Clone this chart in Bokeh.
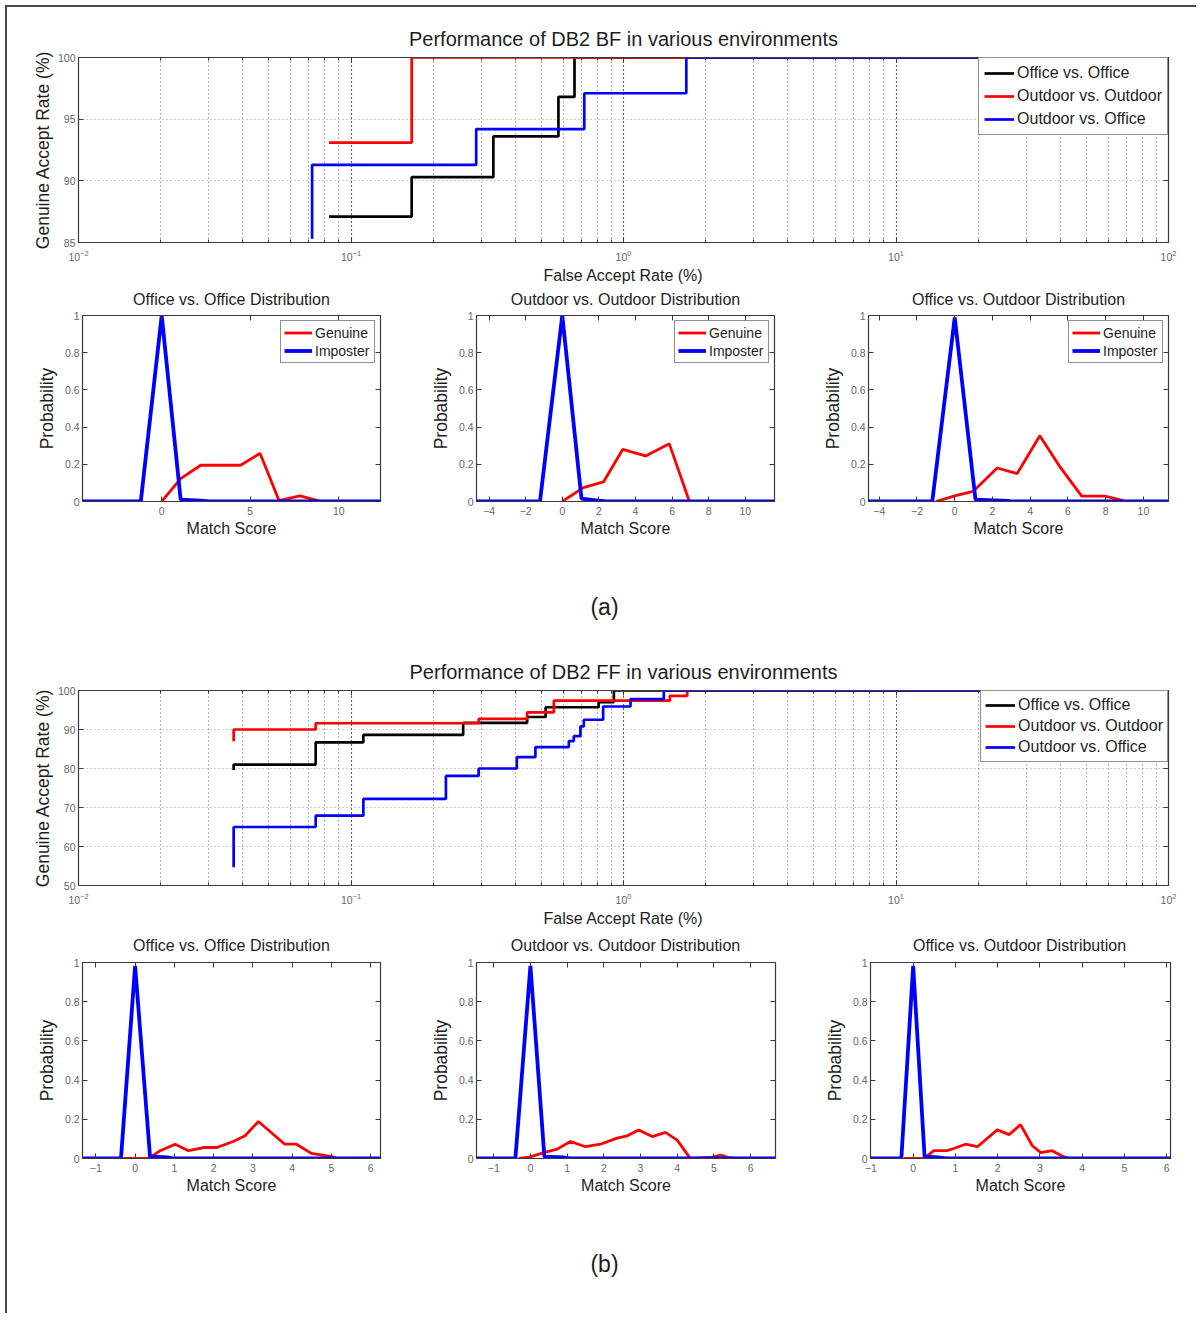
from bokeh.plotting import figure
from bokeh.layouts import column, row
from bokeh.models import (Range1d, LinearAxis, FixedTicker,
                          Legend, LegendItem, NumeralTickFormatter)
from bokeh.core.properties import value
from bokeh.embed import file_html
from bokeh.resources import INLINE

# ---------------- data ----------------
roc_series_names = ["Office vs. Office", "Outdoor vs. Outdoor", "Outdoor vs. Office"]
roc_colors = ["#000000", "#ff0000", "#0000ff"]

# (a) DB2 BF  -- FAR (%) breakpoints and GAR (%) levels (step "after")
bf_far_office = [0.083, 0.167, 0.333, 0.577, 0.661, 100]
bf_gar_office = [87.1, 90.3, 93.6, 96.8, 100, 100]
bf_far_outdoor = [0.083, 0.167, 100]
bf_gar_outdoor = [93.1, 100, 100]
bf_far_cross = [0.072, 0.072, 0.288, 0.718, 1.70, 100]
bf_gar_cross = [85.3, 91.3, 94.2, 97.1, 100, 100]

# (b) DB2 FF
ff_far_office = [0.0371, 0.0371, 0.0742, 0.111, 0.258, 0.443, 0.518, 0.811, 0.922, 100]
ff_gar_office = [79.6, 81.0, 86.7, 88.6, 91.7, 93.2, 95.7, 97.0, 100, 100]
ff_far_outdoor = [0.0371, 0.0371, 0.0742, 0.294, 0.443, 0.555, 1.479, 1.713, 100]
ff_gar_outdoor = [87.0, 90.0, 91.6, 92.7, 94.4, 97.4, 98.6, 100, 100]
ff_far_cross = [0.0371, 0.0371, 0.0742, 0.111, 0.223, 0.294, 0.406, 0.475, 0.630,
                0.657, 0.695, 0.715, 0.842, 1.061, 1.406, 100]
ff_gar_cross = [54.7, 65.0, 67.9, 72.2, 78.1, 80.0, 82.9, 85.5, 87.0,
                88.3, 90.8, 92.5, 95.9, 97.8, 100, 100]

bf_y_ticks = [85, 90, 95, 100]
ff_y_ticks = [50, 60, 70, 80, 90, 100]
far_major_ticks = [0.01, 0.1, 1, 10, 100]
far_minor_ticks = [m * d for d in [0.01, 0.1, 1, 10] for m in range(2, 10)]

dist_titles = ["Office vs. Office Distribution", "Outdoor vs. Outdoor Distribution",
               "Office vs. Outdoor Distribution"]

# distributions (a)
a1_gen_x = [0, 1.07, 2.2, 3.3, 4.45, 5.55, 6.62, 7.8, 8.87]
a1_gen_y = [0, 0.123, 0.195, 0.195, 0.195, 0.259, 0.005, 0.03, 0.003]
a1_imp_x = [-4.47, -1.18, 0, 1.07, 2.2, 2.7, 12.35]
a1_imp_y = [0, 0, 1.0, 0.01, 0.004, 0, 0]

a2_gen_x = [0, 1.15, 2.25, 3.3, 4.55, 5.85, 6.95]
a2_gen_y = [0, 0.075, 0.105, 0.28, 0.245, 0.31, 0.0]
a2_imp_x = [-4.69, -1.22, 0, 1.05, 1.96, 2.4, 11.6]
a2_imp_y = [0, 0, 1.0, 0.015, 0.004, 0, 0]

a3_gen_x = [-1.0, 0, 0.97, 2.25, 3.31, 4.51, 5.58, 6.73, 7.96, 8.94]
a3_gen_y = [0, 0.03, 0.054, 0.18, 0.15, 0.353, 0.186, 0.029, 0.029, 0.005]
a3_imp_x = [-4.57, -1.19, 0, 1.1, 2.83, 3.0, 11.33]
a3_imp_y = [0, 0, 0.99, 0.01, 0.003, 0, 0]

# distributions (b)
b1_gen_x = [-0.3, 0.34, 0.64, 1.02, 1.36, 1.74, 2.08, 2.5, 2.8, 3.14, 3.81, 4.11, 4.49, 5.04, 5.13]
b1_gen_y = [0, 0, 0.04, 0.073, 0.04, 0.056, 0.056, 0.087, 0.116, 0.189, 0.073, 0.073, 0.026, 0.008, 0]
b1_imp_x = [-1.34, -0.36, 0, 0.38, 0.85, 1.0, 6.25]
b1_imp_y = [0, 0, 0.983, 0.01, 0.005, 0, 0]

b2_gen_x = [-0.32, 0, 0.36, 0.73, 1.09, 1.5, 1.91, 2.36, 2.64, 2.95, 3.32, 3.68, 4.0, 4.36,
            4.91, 5.18, 5.41, 5.6]
b2_gen_y = [0, 0.008, 0.03, 0.048, 0.087, 0.06, 0.073, 0.104, 0.116, 0.146, 0.112, 0.133, 0.094, 0,
            0.005, 0.017, 0.005, 0]
b2_imp_x = [-1.47, -0.41, 0, 0.38, 0.91, 1.1, 6.68]
b2_imp_y = [0, 0, 0.983, 0.01, 0.005, 0, 0]

b3_gen_x = [-0.22, 0.25, 0.49, 0.8, 0.96, 1.24, 1.52, 1.99, 2.27, 2.54, 2.82, 3.02, 3.29, 3.57, 3.73]
b3_gen_y = [0, 0, 0.04, 0.04, 0.051, 0.073, 0.06, 0.146, 0.122, 0.173, 0.065, 0.03, 0.04, 0.008, 0]
b3_imp_x = [-1.01, -0.28, 0, 0.27, 0.61, 0.8, 6.09]
b3_imp_y = [0, 0, 0.983, 0.01, 0.005, 0, 0]

prob_ticks = [0, 0.2, 0.4, 0.6, 0.8, 1]

# ---------------- styling helpers ----------------
FONT = "Liberation Sans"
AX = "#3a3a3a"
TICK_TXT = "#666666"
TXT = "#1e1e1e"
OFF = 1          # extra offset of the content from the framing border
PAGE_W = 1188 + OFF
# the column aligns every frame with the big plots' frame: page x 78 .. 1168
STRIP_X = (78, 1168)


def style_axis(ax, labels=True, lab_size="10.5px"):
    ax.axis_line_color = AX
    ax.axis_line_width = 1.2
    ax.major_tick_line_color = AX
    ax.minor_tick_line_color = AX
    ax.major_tick_in = 5
    ax.major_tick_out = 0
    ax.minor_tick_in = 3
    ax.minor_tick_out = 0
    ax.major_label_text_font = FONT
    ax.major_label_text_color = TICK_TXT
    ax.major_label_standoff = 4
    ax.axis_label_text_font = FONT
    ax.axis_label_text_font_style = "normal"
    ax.axis_label_text_color = TXT
    if labels:
        ax.major_label_text_font_size = lab_size
    else:
        # tick marks only (box ticks as in the original); labels are not painted
        ax.major_label_text_font_size = "1px"
        ax.major_label_text_color = None
        ax.major_label_standoff = 0
        ax.axis_label = None


def roc_figure(title, series, y_lo, y_ticks, fh, mt, mb, leg_spacing, leg_pad):
    p = figure(x_axis_type="log", x_range=Range1d(0.01, 100), y_range=Range1d(y_lo, 100),
               frame_width=1090, frame_height=fh, min_border_left=70 + OFF, min_border_right=28,
               min_border_top=mt, min_border_bottom=mb, toolbar_location=None,
               output_backend="svg", title=title)
    p.title.text_font = FONT
    p.title.text_font_size = "20px"
    p.title.text_font_style = "normal"
    p.title.text_color = TXT
    p.title.align = "center"
    p.title.standoff = 15
    p.outline_line_color = AX
    bottom = p.below[0]
    left = p.left[0]
    bottom.axis_label = "False Accept Rate (%)"
    left.axis_label = "Genuine Accept Rate (%)"
    left.ticker = FixedTicker(ticks=y_ticks)
    top = LinearAxis(ticker=FixedTicker(ticks=far_major_ticks, minor_ticks=far_minor_ticks))
    right = LinearAxis(ticker=FixedTicker(ticks=y_ticks))
    p.add_layout(top, "above")
    p.add_layout(right, "right")
    style_axis(bottom, labels=True)
    style_axis(left, labels=True)
    style_axis(top, labels=False)
    style_axis(right, labels=False)
    bottom.axis_label_text_font_size = "16px"
    left.axis_label_text_font_size = "17.5px"
    bottom.axis_label_standoff = 3
    left.axis_label_standoff = 2
    left.major_label_standoff = 3
    bottom.major_label_standoff = 7

    p.xgrid.grid_line_color = "#333333"
    p.xgrid.grid_line_dash = "1 3"
    p.xgrid.grid_line_width = 1.2
    p.xgrid.minor_grid_line_color = "#6a6a6a"
    p.xgrid.minor_grid_line_dash = "1 3"
    p.ygrid.grid_line_color = "#9a9a9a"
    p.ygrid.grid_line_dash = "1 3"

    items = []
    for (name, far, gar), color in zip(series, roc_colors):
        r = p.step(far, gar, mode="after", line_color=color, line_width=2.7)
        items.append(LegendItem(label=name, renderers=[r]))
    leg = Legend(items=items, location="top_right", margin=0, padding=leg_pad,
                 spacing=leg_spacing, glyph_width=30, glyph_height=20, label_height=20,
                 label_width=143, label_standoff=3,
                 label_text_font=FONT, label_text_font_size="16px",
                 label_text_color=TXT, border_line_color="#222222",
                 border_line_width=1, background_fill_alpha=1.0)
    p.add_layout(leg)
    return p


def dist_figure(xr, xticks, gx, gy, ix, iy, fw, fh, ml, mr, mt, mb, legend):
    p = figure(x_range=Range1d(*xr), y_range=Range1d(0, 1), frame_width=fw, frame_height=fh,
               min_border_left=ml, min_border_right=mr, min_border_top=mt, min_border_bottom=mb,
               toolbar_location=None, output_backend="svg")
    p.outline_line_color = AX
    p.grid.visible = False
    bottom = p.below[0]
    left = p.left[0]
    bottom.ticker = FixedTicker(ticks=xticks)
    left.ticker = FixedTicker(ticks=prob_ticks)
    left.formatter = NumeralTickFormatter(format="0.[0]")
    bottom.axis_label = "Match Score"
    left.axis_label = "Probability"
    top = LinearAxis(ticker=FixedTicker(ticks=xticks))
    right = LinearAxis(ticker=FixedTicker(ticks=prob_ticks))
    p.add_layout(top, "above")
    p.add_layout(right, "right")
    style_axis(bottom, labels=True)
    style_axis(left, labels=True)
    style_axis(top, labels=False)
    style_axis(right, labels=False)
    bottom.axis_label_text_font_size = "16px"
    left.axis_label_text_font_size = "17.5px"
    bottom.axis_label_standoff = 2
    left.axis_label_standoff = 5
    left.major_label_standoff = 3
    bottom.major_label_standoff = 5

    rg = p.line(gx, gy, line_color="#ff0000", line_width=2.8)
    ri = p.line(ix, iy, line_color="#0000ff", line_width=3.8)
    if legend:
        leg = Legend(items=[LegendItem(label="Genuine", renderers=[rg]),
                            LegendItem(label="Imposter", renderers=[ri])],
                     location="top_right", margin=5, padding=3, spacing=1,
                     glyph_width=28, glyph_height=17, label_height=17, label_width=56,
                     label_standoff=3, label_text_font=FONT, label_text_font_size="14px",
                     label_text_color=TXT, border_line_color="#222222",
                     border_line_width=1, background_fill_alpha=1.0)
        p.add_layout(leg)
    return p


def text_strip(texts, xs, h, y_from_top, size):
    """A blank strip (no axes) that holds text only; x is given in page pixels."""
    p = figure(width=PAGE_W, height=h, x_range=Range1d(*STRIP_X), y_range=Range1d(0, h),
               toolbar_location=None, output_backend="svg", min_border=0,
               x_axis_location=None, y_axis_location=None)
    p.grid.visible = False
    p.outline_line_color = None
    p.text(x=xs, y=[h - y_from_top] * len(texts), text=texts, text_align="center",
           text_baseline="middle", text_font=value(FONT), text_font_size=value(size),
           text_color=TXT)
    return p


# ---------------- build ----------------
fig_a = roc_figure("Performance of DB2 BF in various environments",
                   [(roc_series_names[0], bf_far_office, bf_gar_office),
                    (roc_series_names[1], bf_far_outdoor, bf_gar_outdoor),
                    (roc_series_names[2], bf_far_cross, bf_gar_cross)],
                   85, bf_y_ticks, fh=185, mt=49 + OFF, mb=44, leg_spacing=3, leg_pad=5)

strip_a = text_strip(dist_titles, [231, 625, 1018], 23, 13, "16px")

a_row = row(
    dist_figure((-4.47, 12.35), [0, 5, 10],
                a1_gen_x, a1_gen_y, a1_imp_x, a1_imp_y, 298, 186, 74 + OFF, 30, 6, 44, True),
    dist_figure((-4.69, 11.6), [-4, -2, 0, 2, 4, 6, 8, 10],
                a2_gen_x, a2_gen_y, a2_imp_x, a2_imp_y, 298, 186, 66, 32, 6, 44, True),
    dist_figure((-4.57, 11.33), [-4, -2, 0, 2, 4, 6, 8, 10],
                a3_gen_x, a3_gen_y, a3_imp_x, a3_imp_y, 300, 186, 62, 28, 6, 44, True),
    spacing=0)

cap_a = text_strip(["(a)"], [604], 95, 61, "23px")

fig_b = roc_figure("Performance of DB2 FF in various environments",
                   [(roc_series_names[0], ff_far_office, ff_gar_office),
                    (roc_series_names[1], ff_far_outdoor, ff_gar_outdoor),
                    (roc_series_names[2], ff_far_cross, ff_gar_cross)],
                   50, ff_y_ticks, fh=195, mt=50, mb=44, leg_spacing=1, leg_pad=4)

strip_b = text_strip(dist_titles, [231, 625, 1019], 24, 16, "16px")

b_ticks = [-1, 0, 1, 2, 3, 4, 5, 6]
b_row = row(
    dist_figure((-1.34, 6.25), b_ticks,
                b1_gen_x, b1_gen_y, b1_imp_x, b1_imp_y, 298, 196, 74 + OFF, 30, 9, 42, False),
    dist_figure((-1.47, 6.68), b_ticks,
                b2_gen_x, b2_gen_y, b2_imp_x, b2_imp_y, 299, 196, 66, 31, 9, 42, False),
    dist_figure((-1.01, 6.09), b_ticks,
                b3_gen_x, b3_gen_y, b3_imp_x, b3_imp_y, 300, 196, 64, 26, 9, 42, False),
    spacing=0)

cap_b = text_strip(["(b)"], [604], 113, 63, "23px")

page = column(fig_a, strip_a, a_row, cap_a, fig_b, strip_b, b_row, cap_b, spacing=0,
              margin=(5, 0, 0, 5),
              styles={"border-top": "2px solid #4a4a4a", "border-left": "2px solid #4a4a4a"})

open("out.html", "w").write(file_html(page, INLINE))
